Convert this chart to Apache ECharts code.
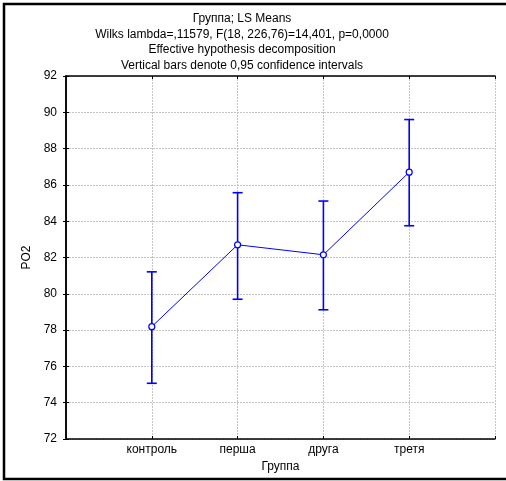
<!DOCTYPE html>
<html><head><meta charset="utf-8">
<script src="https://cdn.jsdelivr.net/npm/echarts@6/dist/echarts.min.js"></script>
<style>html,body{margin:0;padding:0;background:#fff}#c{width:506px;height:481px}</style>
</head><body><div id="c"></div>
<script>
var categories = ['контроль', 'перша', 'друга', 'третя'];
var means = [78.19, 82.70, 82.15, 86.70];
var lower = [75.07, 79.70, 79.12, 83.75];
var upper = [81.21, 85.57, 85.11, 89.60];
var yTicks = [72, 74, 76, 78, 80, 82, 84, 86, 88, 90, 92];
var titleLines = ['Группа; LS Means', 'Wilks lambda=,11579, F(18, 226,76)=14,401, p=0,0000', 'Effective hypothesis decomposition', 'Vertical bars denote 0,95 confidence intervals'];

var FONT = 'Liberation Sans, Arial, sans-serif';
var chart = echarts.init(document.getElementById('c'), null, {renderer: 'canvas'});
var lineData = means.map(function (m, i) { return [i + 1, m]; });
var errData = means.map(function (m, i) { return [i + 1, lower[i], upper[i]]; });

var axisLine = {show: true, lineStyle: {color: '#000', width: 1.5}};
var splitLine = {show: true, lineStyle: {color: '#c4c4c4', type: [2, 1], width: 1}};

chart.setOption({
  animation: false,
  title: titleLines.map(function (t, i) {
    return {text: t, left: 237, top: 8 + i * 15.4, textAlign: 'center',
      textStyle: {fontFamily: FONT, fontSize: 12, fontWeight: 'normal', color: '#000'}};
  }),
  grid: {left: 66, top: 76, right: 11, bottom: 42},
  xAxis: [{
    type: 'value', min: 0, max: 5, interval: 1,
    name: 'Группа', nameLocation: 'middle', nameGap: 20,
    nameTextStyle: {fontFamily: FONT, fontSize: 12, color: '#000'},
    axisLine: axisLine,
    axisTick: {show: true, inside: true, length: 3, lineStyle: {color: '#000'}},
    axisLabel: {fontFamily: FONT, fontSize: 12, color: '#000', margin: 5,
      formatter: function (v) { return (v >= 1 && v <= categories.length) ? categories[v - 1] : ''; }},
    splitLine: splitLine
  }, {
    type: 'value', min: 0, max: 5, interval: 1, position: 'top',
    axisLine: axisLine,
    axisTick: {show: true, inside: true, length: 3, lineStyle: {color: '#000'}},
    axisLabel: {show: false}, splitLine: {show: false}
  }],
  yAxis: [{
    type: 'value', min: yTicks[0], max: yTicks[yTicks.length - 1], interval: 2,
    name: 'PO2', nameLocation: 'middle', nameGap: 32, nameRotate: 90,
    nameTextStyle: {fontFamily: FONT, fontSize: 12, color: '#000'},
    axisLine: axisLine,
    axisTick: {show: true, inside: true, length: 3, lineStyle: {color: '#000'}},
    axisLabel: {fontFamily: FONT, fontSize: 12, color: '#000', margin: 9},
    splitLine: splitLine
  }, {
    type: 'value', min: yTicks[0], max: yTicks[yTicks.length - 1], interval: 2, position: 'right',
    axisLine: axisLine,
    axisTick: {show: true, inside: true, length: 3, lineStyle: {color: '#000'}},
    axisLabel: {show: false}, splitLine: {show: false}
  }],
  series: [{
    type: 'custom',
    xAxisIndex: 0, yAxisIndex: 0,
    data: errData,
    z: 3,
    renderItem: function (params, api) {
      var x = api.value(0);
      var lo = api.coord([x, api.value(1)]);
      var hi = api.coord([x, api.value(2)]);
      var hw = 5;
      var st = {stroke: '#0000ff', lineWidth: 1.6};
      return {type: 'group', children: [
        {type: 'line', shape: {x1: lo[0], y1: lo[1], x2: hi[0], y2: hi[1]}, style: st},
        {type: 'line', shape: {x1: lo[0] - hw, y1: lo[1], x2: lo[0] + hw, y2: lo[1]}, style: st},
        {type: 'line', shape: {x1: hi[0] - hw, y1: hi[1], x2: hi[0] + hw, y2: hi[1]}, style: st}
      ]};
    }
  }, {
    type: 'line',
    xAxisIndex: 0, yAxisIndex: 0,
    data: lineData,
    z: 4,
    symbol: 'circle', symbolSize: 6,
    lineStyle: {color: '#0000ff', width: 1},
    itemStyle: {color: '#fff', borderColor: '#0000ff', borderWidth: 1.2}
  }],
  graphic: [{
    type: 'rect', shape: {x: 4, y: 4, width: 510, height: 475},
    style: {fill: null, stroke: '#000', lineWidth: 2.5}, silent: true
  }]
});
</script>
</body></html>
